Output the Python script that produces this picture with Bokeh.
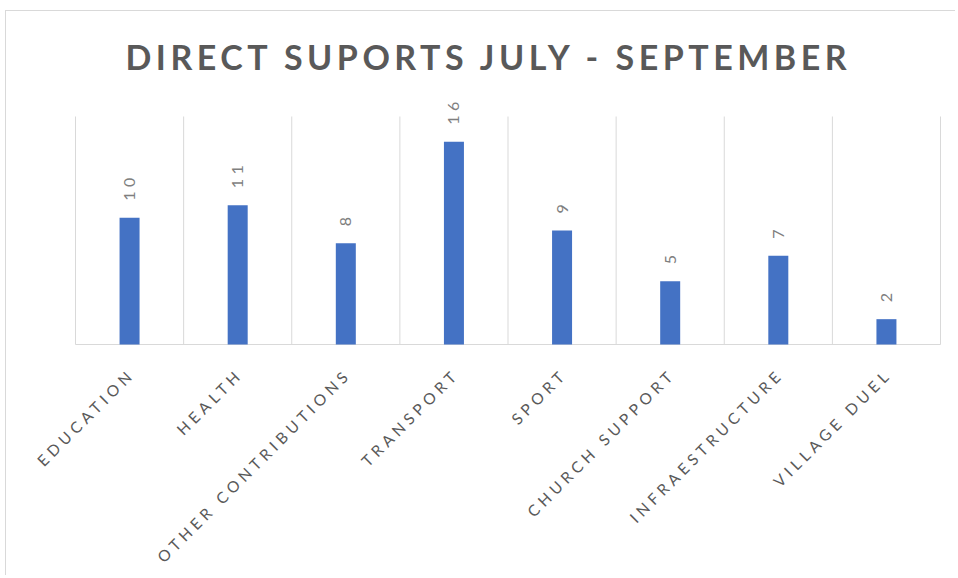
import math
from bokeh.plotting import figure
from bokeh.models import ColumnDataSource, Range1d, Label
from bokeh.core.properties import value
from bokeh.embed import file_html
from bokeh.resources import INLINE

title_text = "DIRECT SUPORTS JULY - SEPTEMBER"
categories = ["EDUCATION", "HEALTH", "OTHER CONTRIBUTIONS", "TRANSPORT",
              "SPORT", "CHURCH SUPPORT", "INFRAESTRUCTURE", "VILLAGE DUEL"]
values = [10, 11, 8, 16, 9, 5, 7, 2]
y_max = 18

# ---- layout constants (pixels) ----
W, H = 950, 565
PLOT_L, PLOT_R = 69, 934     # plot area left/right inside the figure
PLOT_T, PLOT_B = 105, 333    # plot area top/bottom inside the figure
SPACING = 4.5                # letter spacing (px), applied through inherited CSS
C45 = math.cos(math.pi / 4)

n = len(categories)
px_x = (PLOT_R - PLOT_L) / n
px_y = (PLOT_B - PLOT_T) / y_max
x_range = Range1d(-PLOT_L / px_x, n + (W - PLOT_R) / px_x)
y_range = Range1d(-(H - PLOT_B) / px_y, y_max + PLOT_T / px_y)

xs = [i + 0.5 for i in range(n)]
bounds = list(range(n + 1))
source = ColumnDataSource(dict(x=xs, v=values, label=[str(v) for v in values]))
grid_src = ColumnDataSource(dict(x=bounds, y0=[0] * len(bounds), y1=[y_max] * len(bounds)))
lab_src = ColumnDataSource(dict(
    x=xs, y=[0] * n, text=categories,
    xo=[-1 - (len(c) - 1) * SPACING * C45 for c in categories],
    yo=[30 + (len(c) - 1) * SPACING * C45 for c in categories],
))

p = figure(width=W, height=H, x_range=x_range, y_range=y_range,
           output_backend="svg", toolbar_location=None,
           min_border=0, min_border_left=0, min_border_right=0,
           min_border_top=0, min_border_bottom=0)
p.styles = {"letter-spacing": f"{SPACING}px", "margin-left": "6px", "margin-top": "11px",
            "box-shadow": "-1px -1px 0 0 #d9d9d9"}
p.background_fill_color = "white"
p.border_fill_color = "white"
p.outline_line_color = None
p.xaxis.visible = False
p.yaxis.visible = False
p.xgrid.visible = False
p.ygrid.visible = False

# vertical gridlines between categories and the category axis line
p.segment(x0="x", y0="y0", x1="x", y1="y1", source=grid_src, line_color="#d9d9d9", line_width=1)
p.segment(x0=[0], y0=[0], x1=[n], y1=[0], line_color="#d9d9d9", line_width=1)

p.vbar(x="x", top="v", width=0.185, source=source, fill_color="#4472C4", line_color=None)
p.text(x="x", y="v", text="label", source=source, angle=math.pi / 2,
       text_align="left", text_baseline="middle", y_offset=-17,
       text_font=value("Lato"), text_font_size="16px", text_color="#7f7f7f")

p.text(x="x", y="y", text="text", source=lab_src, x_offset="xo", y_offset="yo",
       angle=math.pi / 4, text_align="right", text_baseline="middle",
       text_font=value("Lato"), text_font_size="15.5px", text_color="#595959")

title = Label(x=119, y=H - 45, x_units="screen", y_units="screen", text=title_text,
              text_align="left", text_baseline="alphabetic",
              text_font="Lato", text_font_size="34px", text_font_style="bold",
              text_color="#595959")
p.add_layout(title)

open("out.html", "w").write(file_html(p, INLINE))
